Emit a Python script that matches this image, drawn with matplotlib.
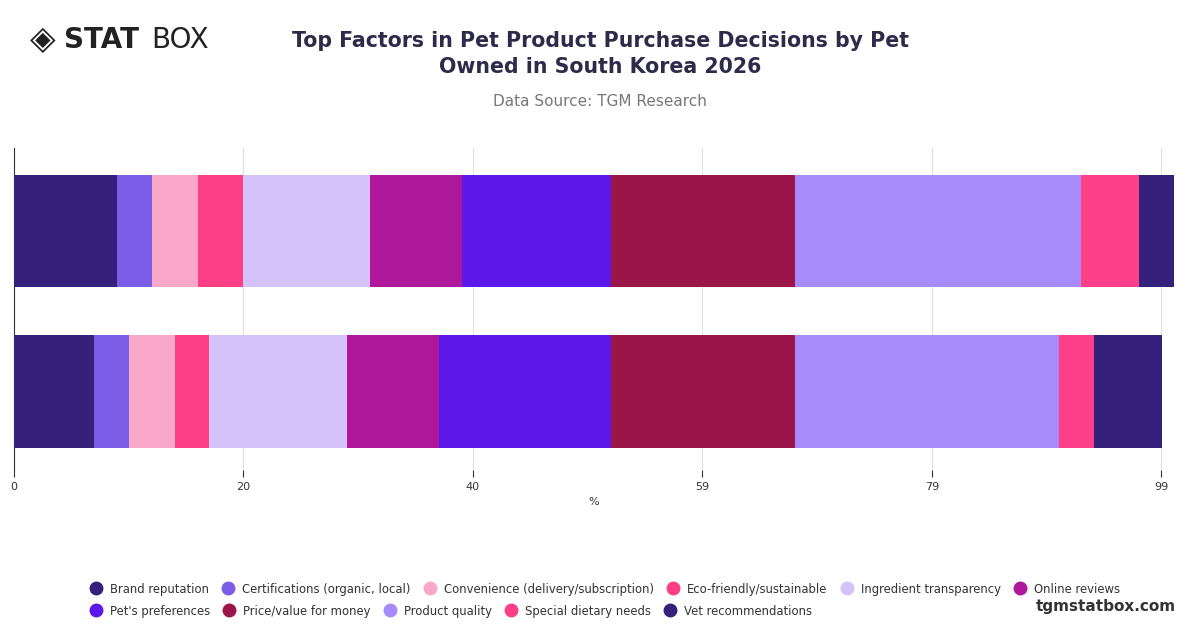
import matplotlib.pyplot as plt
import numpy as np

categories = ["Brand reputation", "Certifications (organic, local)", "Convenience (delivery/subscription)",
              "Eco-friendly/sustainable", "Ingredient transparency", "Online reviews", "Pet's preferences",
              "Price/value for money", "Product quality", "Special dietary needs", "Vet recommendations"]
colors = ["#35207c", "#7b5de8", "#f9a8c9", "#fd3f86", "#d5c2f9", "#b0189b", "#5b18e8",
          "#9b1548", "#a78bfa", "#fd3f8a", "#35207c"]
bar_top = [8.9, 3.0, 4.0, 3.9, 10.9, 8.0, 12.8, 15.9, 24.7, 5.0, 3.0]
bar_bottom = [6.9, 3.0, 4.0, 2.9, 11.9, 8.0, 14.8, 15.9, 22.8, 3.0, 5.9]
tick_vals = np.linspace(0, 99, 6)
tick_labels = ["0", "20", "40", "59", "79", "99"]

fig = plt.figure(figsize=(12, 6.28), dpi=100)
ax = fig.add_axes([14/1200, 1-470/628, 1160/1200, 322/628])
rows = [bar_top, bar_bottom]
ypos = [1, 0]
for y, vals in zip(ypos, rows):
    left = 0
    for v, c in zip(vals, colors):
        ax.barh(y, v, left=left, color=c, height=0.7, zorder=3)
        left += v
ax.set_xlim(0, 100.1)
ax.set_ylim(-0.49, 1.52)
ax.set_xticks(tick_vals)
ax.set_xticklabels(tick_labels, fontsize=8, color="#333333")
ax.set_yticks([])
ax.grid(axis="x", color="#e0e0e0", lw=0.8, zorder=0)
for s in ["top", "right", "bottom"]:
    ax.spines[s].set_visible(False)
ax.spines["left"].set_color("#333333")
ax.tick_params(axis="x", length=5, color="#333333")
ax.set_xlabel("%", fontsize=8, color="#333333")

fig.text(0.5, 0.914, "Top Factors in Pet Product Purchase Decisions by Pet\nOwned in South Korea 2026",
         ha="center", va="center", fontsize=14.8, fontweight="bold", color="#2e2b4a", linespacing=1.35)
fig.text(0.5, 0.838, "Data Source: TGM Research", ha="center", va="center", fontsize=11, color="#777777")
fig.text(0.053, 0.937, "STAT", ha="left", va="center", fontsize=20, fontweight="bold", color="#222222")
fig.text(0.126, 0.937, "BOX", ha="left", va="center", fontsize=20, color="#222222")
fig.text(0.036, 0.937, "◈", ha="center", va="center", fontsize=24, color="#222222")
fig.text(0.98, 0.034, "tgmstatbox.com", ha="right", va="center", fontsize=11, fontweight="bold", color="#333333")

handles = [plt.Line2D([], [], marker="o", ls="", markersize=9, markerfacecolor=c, markeredgecolor=c) for c in colors]
kw = dict(frameon=False, fontsize=8.4, handletextpad=0.6, columnspacing=1.05, labelcolor="#333333",
          borderaxespad=0, borderpad=0, handlelength=1.2)
fig.legend(handles[:6], categories[:6], loc="center left", bbox_to_anchor=(0.074, 0.062), ncol=6, **kw)
fig.legend(handles[6:], categories[6:], loc="center left", bbox_to_anchor=(0.074, 0.027), ncol=5, **kw)
fig.savefig("out.png", dpi=100)
